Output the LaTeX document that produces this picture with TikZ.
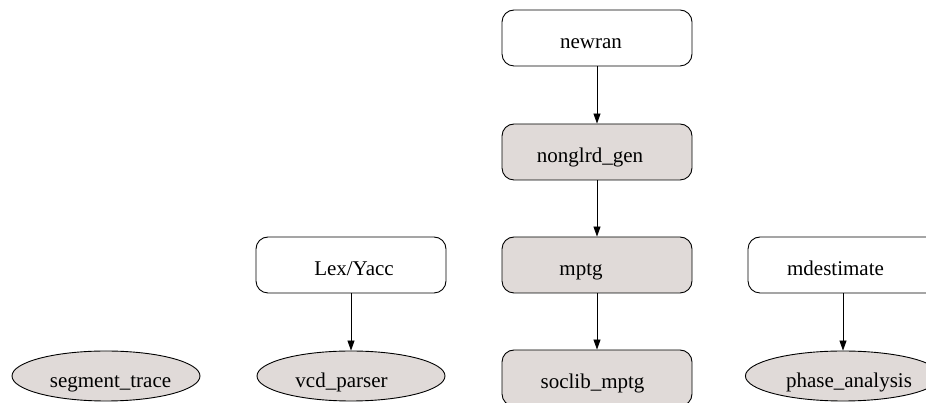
\documentclass[tikz,border=0pt]{standalone}
\usepackage{fontspec}
\setmainfont{Liberation Serif}
\usetikzlibrary{arrows.meta,shapes.geometric}
\definecolor{nodefill}{HTML}{E0DAD8}
\newcommand{\shiftx}[2]{\hspace*{#1}#2}
\begin{document}
\begin{tikzpicture}[x=1pt,y=1pt,
  box/.style={draw, rounded corners=12pt, minimum width=190pt, minimum height=56pt, line width=0.9pt, inner sep=0pt, text height=22pt, text depth=0pt, font=\fontsize{21}{25}\selectfont},
  filledbox/.style={box, fill=nodefill},
  oval/.style={ellipse, draw, fill=nodefill, minimum width=188pt, minimum height=50pt, inner sep=0pt, line width=0.9pt, text height=24pt, text depth=0pt, font=\fontsize{21}{25}\selectfont},
  edge/.style={-{Triangle[length=10pt,width=7pt]}, line width=0.8pt}]
\useasboundingbox (0,0) rectangle (926,403);
\clip (0,0) rectangle (926,403);
\node[box] (newran) at (597,365) {\shiftx{-12pt}{newran}};
\node[filledbox] (nonglrd) at (597,251) {\shiftx{-14pt}{nonglrd\_gen}};
\node[filledbox] (mptg) at (597,138) {\shiftx{-32pt}{mptg}};
\node[filledbox] (soclib) at (597,25) {\shiftx{-9pt}{soclib\_mptg}};
\node[box] (lexyacc) at (351,138) {\shiftx{6pt}{Lex/Yacc}};
\node[oval] (vcd) at (351,27) {\shiftx{-19pt}{vcd\_parser}};
\node[oval] (segment) at (106,27) {\shiftx{9pt}{segment\_trace}};
\node[box] (mdest) at (843,138) {\shiftx{-15pt}{mdestimate}};
\node[oval] (phase) at (843,27) {\shiftx{12pt}{phase\_analysis}};
\draw[edge] (newran) -- (nonglrd);
\draw[edge] (nonglrd) -- (mptg);
\draw[edge] (mptg) -- (soclib);
\draw[edge] (lexyacc) -- (vcd);
\draw[edge] (mdest) -- (phase);
\end{tikzpicture}
\end{document}
